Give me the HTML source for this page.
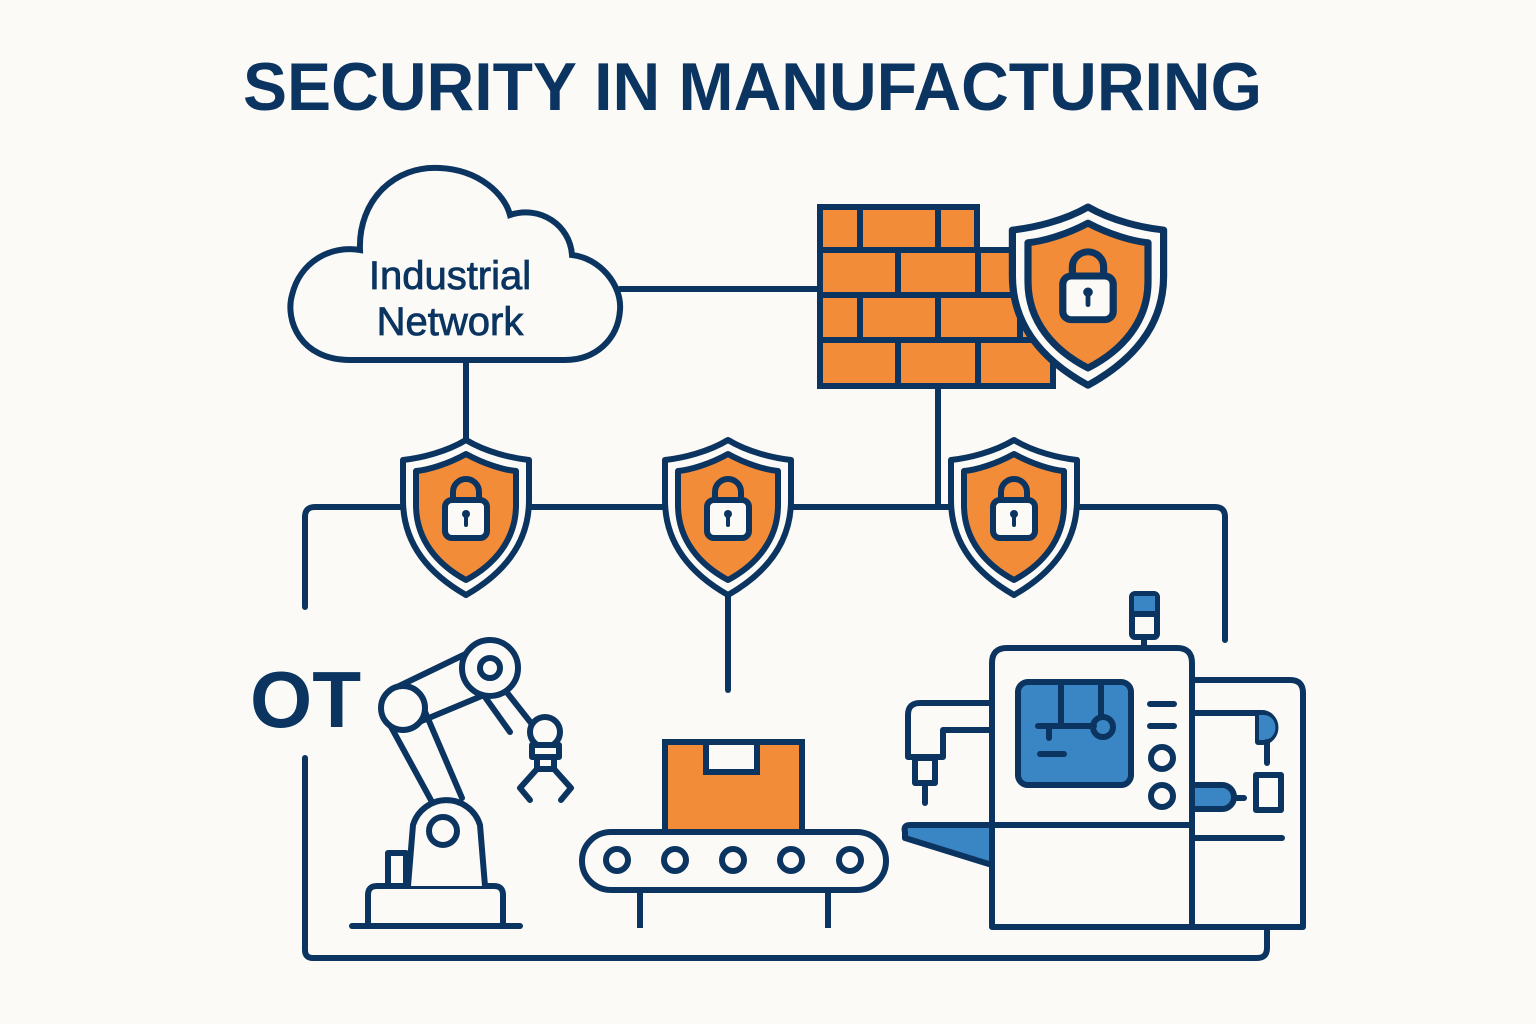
<!DOCTYPE html>
<html><head><meta charset="utf-8"><style>
html,body{margin:0;padding:0;background:#fcfaf7;}
svg{display:block;}
text{font-family:"Liberation Sans",sans-serif;}
</style></head><body>
<svg width="1536" height="1024" viewBox="0 0 1536 1024" xmlns="http://www.w3.org/2000/svg">
<defs>
<g id="shield">
<path d="M0,0 C-20,12 -45,18 -63,20 L-63,60 C-63,105 -35,135 0,155 C35,135 63,105 63,60 L63,20 C45,18 20,12 0,0 Z" fill="#fcfaf7" stroke="#0b3560" stroke-width="6" stroke-linejoin="round"/>
<path d="M0,14 C-18,24 -38,30 -50,31 L-50,65 C-50,100 -28,125 0,140 C28,125 50,100 50,65 L50,31 C38,30 18,24 0,14 Z" fill="#f28c38" stroke="#0b3560" stroke-width="6" stroke-linejoin="round"/>
<path d="M-13,62 V52 A13,13 0 0 1 13,52 V62" fill="none" stroke="#0b3560" stroke-width="6"/>
<rect x="-21" y="60" width="42" height="38" rx="7" fill="#fcfaf7" stroke="#0b3560" stroke-width="6"/>
<circle cx="0" cy="74" r="4" fill="#0b3560"/><line x1="0" y1="74" x2="0" y2="85" stroke="#0b3560" stroke-width="4" stroke-linecap="round"/>
</g>
</defs>
<text x="243" y="110" font-size="68" font-weight="bold" fill="#0b3560" textLength="1019" lengthAdjust="spacingAndGlyphs">SECURITY IN MANUFACTURING</text>

<g fill="none" stroke="#0b3560" stroke-width="6" stroke-linecap="round" stroke-linejoin="round">
<line x1="620" y1="289" x2="820" y2="289"/>
<line x1="466" y1="362" x2="466" y2="440"/>
<line x1="938" y1="386" x2="938" y2="505"/>
<path d="M305,607 V517 Q305,507 315,507 H1215 Q1225,507 1225,517 V640"/>
<line x1="728" y1="595" x2="728" y2="690"/>
<path d="M305,758 V950 Q305,958 313,958 H1257 Q1267,958 1267,948 V927"/>
</g>

<path d="M350,360 C300,360 285,320 292,295 C300,262 330,245 360,250 C358,200 395,165 440,168 C480,170 505,195 510,215 C540,205 570,225 572,255 C600,258 622,285 620,310 C618,340 595,360 565,360 Z" fill="#fcfaf7" stroke="#0b3560" stroke-width="6"/>
<text x="450" y="289" font-size="40" fill="#0b3560" stroke="#0b3560" stroke-width="0.8" text-anchor="middle">Industrial</text>
<text x="450" y="335" font-size="40" fill="#0b3560" stroke="#0b3560" stroke-width="0.8" text-anchor="middle">Network</text>

<g stroke="#0b3560" stroke-width="6" fill="#f28c38">
<path d="M820,207 H977 V250 H1053 V386 H820 Z"/>
<g fill="none">
<line x1="820" y1="250" x2="1053" y2="250"/><line x1="820" y1="295" x2="1053" y2="295"/><line x1="820" y1="340" x2="1053" y2="340"/>
<line x1="860" y1="207" x2="860" y2="250"/><line x1="938" y1="207" x2="938" y2="250"/>
<line x1="898" y1="250" x2="898" y2="295"/><line x1="978" y1="250" x2="978" y2="295"/>
<line x1="860" y1="295" x2="860" y2="340"/><line x1="938" y1="295" x2="938" y2="340"/><line x1="1020" y1="295" x2="1020" y2="340"/>
<line x1="898" y1="340" x2="898" y2="386"/><line x1="978" y1="340" x2="978" y2="386"/>
</g></g>
<use href="#shield" transform="translate(1088,207) scale(1.2,1.15)"/>
<use href="#shield" transform="translate(466,440)"/>
<use href="#shield" transform="translate(728,440)"/>
<use href="#shield" transform="translate(1014,440)"/>

<text x="250" y="727" font-size="80" font-weight="bold" fill="#0b3560">OT</text>

<g fill="#fcfaf7" stroke="#0b3560" stroke-width="6" stroke-linejoin="round" stroke-linecap="round">
<line x1="352" y1="926" x2="520" y2="926"/>
<rect x="388" y="853" width="18" height="34"/>
<path d="M368,926 V895 Q368,886 377,886 H494 Q503,886 503,895 V926 Z"/>
<path d="M408,886 L413,825 A35,35 0 0 1 480,825 L485,886"/>
<circle cx="443" cy="831" r="14"/>
<path d="M390,725 L432,802 M420,700 L462,798"/>
<path d="M395,688 L478,648 M412,725 L496,690"/>
<path d="M505,690 L535,728 M480,690 L510,732"/>
<circle cx="403" cy="708" r="22"/>
<circle cx="490" cy="668" r="28"/><circle cx="490" cy="668" r="10"/>
<circle cx="545" cy="732" r="15"/>
<rect x="532" y="745" width="27" height="12"/>
<rect x="537" y="757" width="17" height="12"/>
<path d="M537,769 L520,788 L530,800 M554,769 L571,788 L561,800" fill="none"/>
</g>

<g stroke="#0b3560" stroke-width="6">
<rect x="665" y="742" width="137" height="90" fill="#f28c38"/>
<rect x="706" y="742" width="51" height="30" fill="#fcfaf7"/>
<rect x="582" y="832" width="304" height="58" rx="29" fill="#fcfaf7"/>
<g fill="none"><circle cx="617" cy="860" r="11"/><circle cx="675" cy="860" r="11"/><circle cx="733" cy="860" r="11"/><circle cx="791" cy="860" r="11"/><circle cx="850" cy="860" r="11"/></g>
<line x1="640" y1="890" x2="640" y2="928"/><line x1="828" y1="890" x2="828" y2="928"/>
</g>

<g stroke="#0b3560" stroke-width="6" stroke-linejoin="round" stroke-linecap="round" fill="#fcfaf7">
<rect x="1132" y="594" width="25" height="43" rx="3"/>
<rect x="1134" y="596" width="21" height="18" fill="#3a85c4" stroke="none"/>
<line x1="1132" y1="614" x2="1157" y2="614"/>
<line x1="1144" y1="637" x2="1144" y2="648"/>
<path d="M1192,680 H1290 Q1303,680 1303,693 V927 H1192 Z"/>
<path d="M1192,713 H1262 A13,14 0 0 1 1262,742 H1258 V713" />
<path d="M1259,715 H1264 A11,12 0 0 1 1264,740 H1259 Z" fill="#3a85c4" stroke="none"/>
<line x1="1267" y1="742" x2="1267" y2="763"/>
<path d="M1195,785 H1222 A12,12 0 0 1 1222,809 H1195" fill="#3a85c4"/>
<line x1="1234" y1="798" x2="1244" y2="798"/>
<rect x="1256" y="775" width="25" height="35"/>
<line x1="1195" y1="838" x2="1282" y2="838"/>
<path d="M992,703 H920 Q908,703 908,715 V757 H943 V730 H992"/>
<rect x="915" y="758" width="20" height="25"/>
<line x1="925" y1="783" x2="925" y2="803"/>
<path d="M992,825 H910 Q903,825 905,832 L905,838 L992,865 Z" fill="#3a85c4"/>
<path d="M992,927 V663 Q992,648 1007,648 H1177 Q1192,648 1192,663 V927 Z"/>
<line x1="992" y1="825" x2="1192" y2="825"/>
<rect x="1018" y="682" width="113" height="103" rx="10" fill="#3a85c4"/>
<g fill="none">
<line x1="1061" y1="686" x2="1061" y2="726"/>
<line x1="1101" y1="686" x2="1101" y2="716"/>
<line x1="1038" y1="726" x2="1094" y2="726"/>
<line x1="1049" y1="726" x2="1049" y2="738"/>
<circle cx="1103" cy="727" r="10"/>
<line x1="1040" y1="754" x2="1064" y2="754"/>
<line x1="1150" y1="704" x2="1174" y2="704"/>
<line x1="1150" y1="726" x2="1174" y2="726"/>
<circle cx="1162" cy="758" r="11"/>
<circle cx="1162" cy="796" r="11"/>
</g>
</g>
</svg>
</body></html>
